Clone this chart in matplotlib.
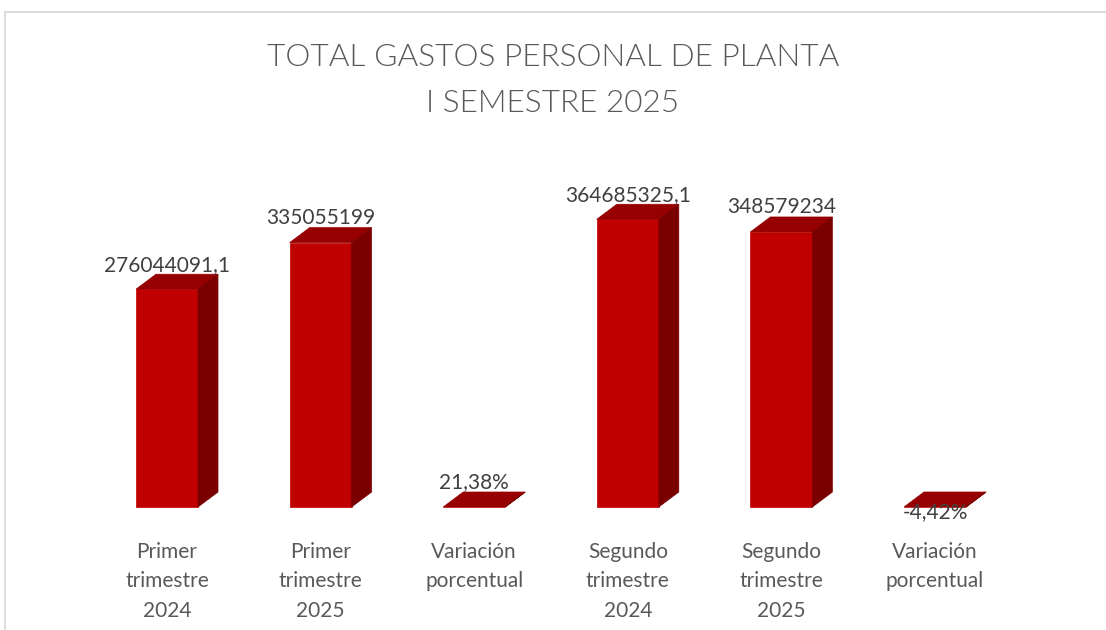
import matplotlib.pyplot as plt
from matplotlib.patches import Polygon, Rectangle

plt.rcParams['font.family'] = ['Lato', 'DejaVu Sans']

categorias = ['Primer\ntrimestre\n2024', 'Primer\ntrimestre\n2025', 'Variación\nporcentual',
              'Segundo\ntrimestre\n2024', 'Segundo\ntrimestre\n2025', 'Variación\nporcentual']
valores = [276044091.1, 335055199, 0.2138, 364685325.1, 348579234, -0.0442]
etiquetas = ['276044091,1', '335055199', '21,38%', '364685325,1', '348579234', '-4,42%']

W, H = 1106, 630
fig = plt.figure(figsize=(W / 100, H / 100), dpi=100)

# ejes ubicados para que el centro de cada barra caiga donde en el original
x0, paso = 167, 153.6
escala = 0.789e-6  # pixeles por unidad
ymax = 4.2e8
left = x0 - 0.6 * paso
ancho = 6.2 * paso
base = 507
ax = fig.add_axes([left / W, (H - base) / H, ancho / W, ymax * escala / H])
ax.set_xlim(-0.6, 5.6)
ax.set_ylim(0, ymax)
for s in ax.spines.values():
    s.set_visible(False)
ax.set_yticks([])

frente = '#C00000'
techo = '#960000'
lado = '#7A0000'
w = 62 / paso
dx = 20 / paso
dy = 15 / escala

xs = list(range(len(valores)))
ax.bar(xs, valores, width=w, color=frente, edgecolor=frente, linewidth=0.5, clip_on=False, zorder=2)
for x, v in zip(xs, valores):
    top = max(v, 0)
    izq, der = x - w / 2, x + w / 2
    ax.add_patch(Polygon([(izq, top), (der, top), (der + dx, top + dy), (izq + dx, top + dy)],
                         closed=True, facecolor=techo, edgecolor=techo, linewidth=0.5,
                         clip_on=False, zorder=2))
    ax.add_patch(Polygon([(der, min(v, 0)), (der + dx, min(v, 0) + dy), (der + dx, top + dy), (der, top)],
                         closed=True, facecolor=lado, edgecolor=lado, linewidth=0.5,
                         clip_on=False, zorder=2))

for x, v, t in zip(xs, valores, etiquetas):
    if v >= 0:
        ax.annotate(t, (x, v + dy), xytext=(0, 2.5), textcoords='offset points',
                    ha='center', va='baseline', fontsize=15, color='#404040', zorder=3)
    else:
        ax.annotate(t, (x, v + dy), xytext=(0, -18.7), textcoords='offset points',
                    ha='center', va='baseline', fontsize=15, color='#404040', zorder=3)

ax.set_xticks(xs)
ax.set_xticklabels(categorias, fontsize=15, color='#595959', linespacing=1.6)
ax.tick_params(axis='x', length=0, pad=25)

fig.text(0.5, 1 - 58 / H, 'TOTAL GASTOS PERSONAL DE PLANTA', ha='center', va='center',
         fontsize=22.8, color='#595959', fontweight=300)
fig.text(0.5, 1 - 104 / H, 'I SEMESTRE 2025', ha='center', va='center',
         fontsize=22.8, color='#595959', fontweight=300)

fig.add_artist(Rectangle((5 / W, -0.05), 1.1, 1 - 12 / H + 0.05, transform=fig.transFigure,
                         fill=False, edgecolor='#D9D9D9', linewidth=1.3))

fig.savefig('out.png', dpi=100)
